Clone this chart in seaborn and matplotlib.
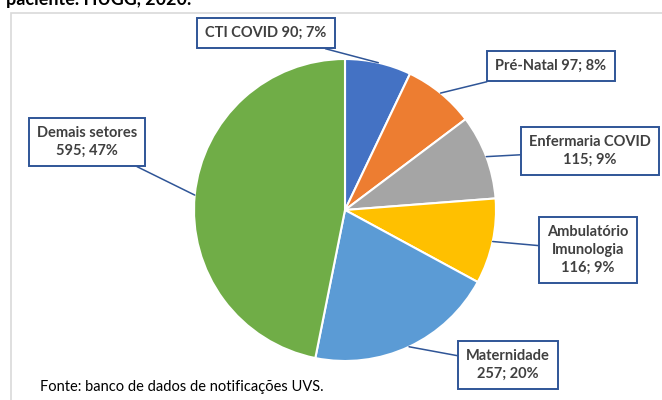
import numpy as np
import seaborn as sns
import matplotlib.pyplot as plt
from matplotlib.patches import Rectangle

setores = ['CTI COVID', 'Pré-Natal', 'Enfermaria COVID', 'Ambulatório\nImunologia', 'Maternidade', 'Demais setores']
notificacoes = [90, 97, 115, 116, 257, 595]
cores = ['#4472C4', '#ED7D31', '#A5A5A5', '#FFC000', '#5B9BD5', '#70AD47']
# label box centres (pixels, y up) and whether name and value share a line
pos_rotulos = [(266, 367), (551, 334), (590, 249), (588, 150), (508, 35), (87, 258)]
uma_linha = [True, True, False, False, False, False]

sns.set_theme(style='white')
plt.rcParams['font.family'] = ['Lato', 'DejaVu Sans']

fig = plt.figure(figsize=(6.62, 4.0), dpi=100)
ax = fig.add_axes([0, 0, 1, 1])
ax.set_xlim(0, 662)
ax.set_ylim(0, 400)
ax.set_aspect('equal')
ax.axis('off')

# chart frame
ax.add_patch(Rectangle((11, -10), 700, 397, fill=False, edgecolor='#D9D9D9', lw=1.2))

centro = (345, 190)
raio = 151
wedges, _ = ax.pie(notificacoes, colors=cores, startangle=90, counterclock=False,
                   center=centro, radius=raio,
                   wedgeprops=dict(edgecolor='white', linewidth=1.5))
ax.set_xlim(0, 662)
ax.set_ylim(0, 400)

total = sum(notificacoes)
acum = 0
for nome, v, p, linha in zip(setores, notificacoes, pos_rotulos, uma_linha):
    ang = np.deg2rad(90 - 360 * (acum + v / 2) / total)
    acum += v
    ponto = (centro[0] + raio * np.cos(ang), centro[1] + raio * np.sin(ang))
    pct = round(100 * v / total)
    sep = ' ' if linha else '\n'
    texto = f'{nome}{sep}{v}; {pct}%'
    ax.annotate(texto, xy=ponto, xytext=p, ha='center', va='center',
                fontsize=10.5, fontweight='bold', color='#404040',
                multialignment='center', linespacing=1.35,
                bbox=dict(boxstyle='square,pad=0.55', fc='white', ec='#2F5597', lw=1.4),
                arrowprops=dict(arrowstyle='-', color='#2F5597', lw=1.1,
                                shrinkA=0, shrinkB=0))

ax.text(40, 9, 'Fonte: banco de dados de notificações UVS.', fontsize=10.5,
        color='black', ha='left', va='baseline')
ax.text(6, 395, 'paciente. HUGG, 2020.', fontsize=13, fontweight='bold',
        color='black', ha='left', va='baseline')

plt.savefig('out.png', dpi=100)
